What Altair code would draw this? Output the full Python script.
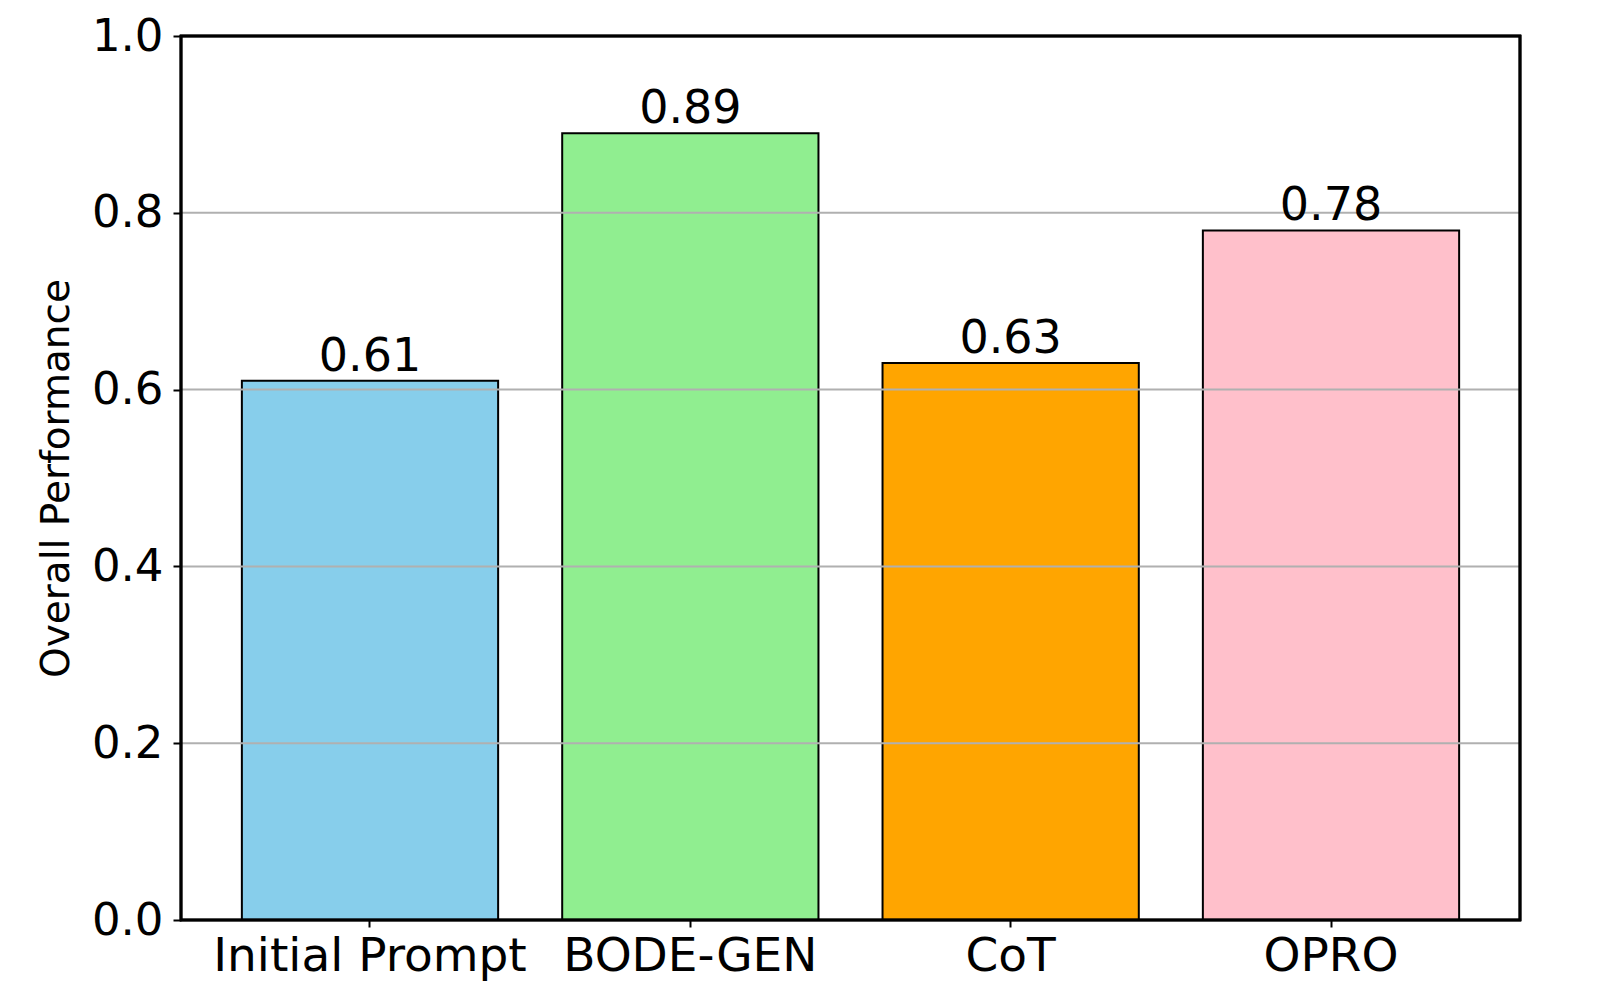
import altair as alt
import pandas as pd

methods = ["Initial Prompt", "BODE-GEN", "CoT", "OPRO"]
scores = [0.61, 0.89, 0.63, 0.78]
colors = ["#87CEEB", "#90EE90", "#FFA500", "#FFC0CB"]
y_ticks = [0.0, 0.2, 0.4, 0.6, 0.8, 1.0]
grid_vals = [0.2, 0.4, 0.6, 0.8]

df = pd.DataFrame({"method": methods, "score": scores, "color": colors})
grid_df = pd.DataFrame({"g": grid_vals})

FONT = "DejaVu Sans"
W, H = 1339, 884

x = alt.X(
    "method:N",
    sort=methods,
    scale=alt.Scale(paddingInner=0.2, paddingOuter=0.19),
    axis=alt.Axis(
        title=None, labelAngle=0, labelFontSize=47, labelFont=FONT, labelColor="black",
        labelLimit=0, tickColor="black", tickSize=7, tickWidth=2, domain=False,
        labelPadding=6, grid=False,
    ),
)
y = alt.Y(
    "score:Q",
    scale=alt.Scale(domain=[0, 1], nice=False, zero=True),
    axis=alt.Axis(
        values=y_ticks, format=".1f", title="Overall Performance", titleFontSize=39,
        titleFont=FONT, titleFontWeight="normal", titleColor="black", titlePadding=15,
        labelFontSize=45, labelFont=FONT, labelColor="black", labelPadding=10,
        tickColor="black", tickSize=8, tickWidth=2, domain=False, grid=False,
    ),
)

bars = alt.Chart(df).mark_bar(stroke="black", strokeWidth=2).encode(
    x=x, y=y, color=alt.Color("color:N", scale=None)
)
grid = alt.Chart(grid_df).mark_rule(color="#b0b0b0", strokeWidth=2).encode(y="g:Q")
labels = alt.Chart(df).mark_text(
    baseline="alphabetic", dy=-10, fontSize=46, font=FONT, color="black"
).encode(
    x=alt.X("method:N", sort=methods), y="score:Q", text=alt.Text("score:Q", format=".2f")
)
frame = alt.Chart(df).mark_rect(fillOpacity=0, stroke="black", strokeWidth=2.5).encode(
    x=alt.value(0), x2=alt.value(W), y=alt.value(0), y2=alt.value(H)
)

chart = (
    (bars + grid + labels + frame)
    .properties(
        width=W, height=H,
        autosize=alt.AutoSizeParams(type="none"),
        padding={"left": 181, "top": 36, "right": 80, "bottom": 80},
    )
    .configure_view(stroke=None)
    .configure(background="white")
)

chart.save("out.html", embed_options={"renderer": "svg", "actions": False})
